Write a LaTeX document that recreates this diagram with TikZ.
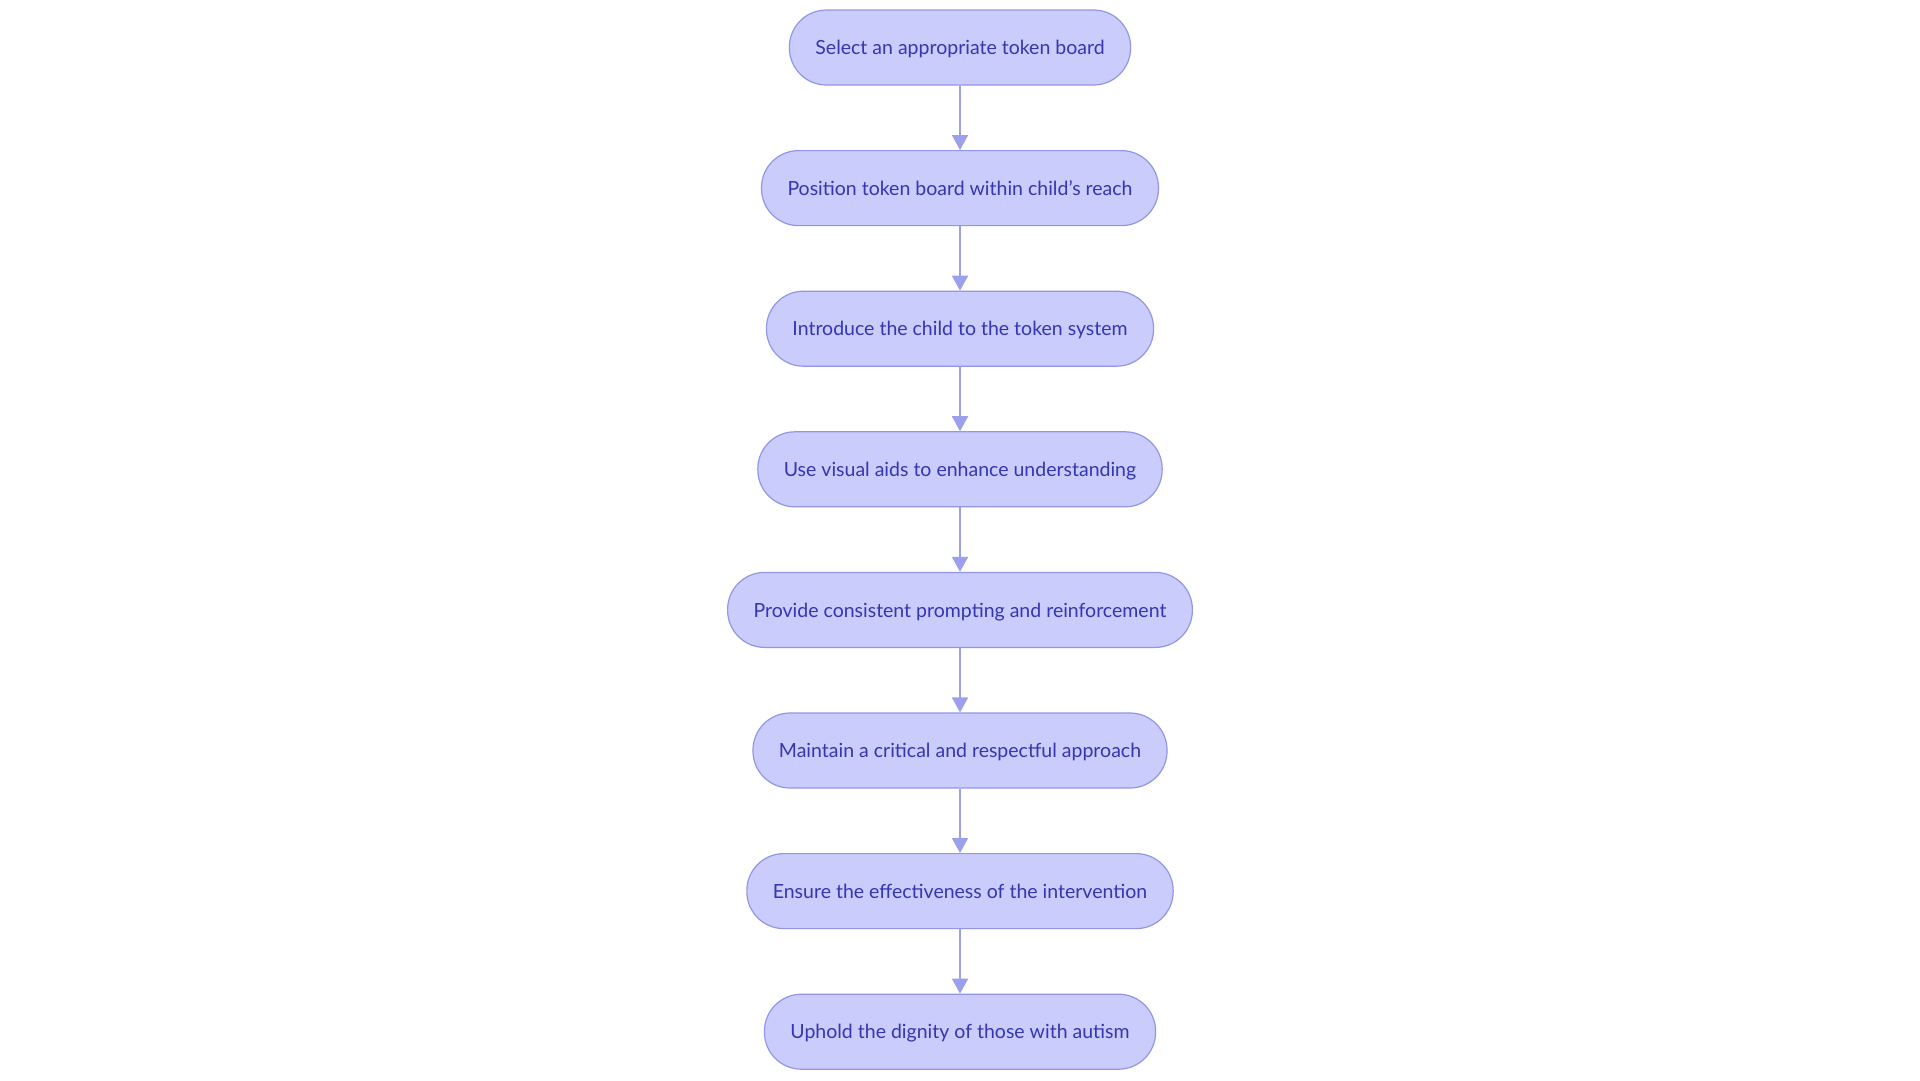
\documentclass[tikz,border=0pt]{standalone}
\usepackage{fontspec}
\setmainfont{Lato}
\usetikzlibrary{arrows.meta}
\definecolor{nodefill}{RGB}{202,204,251}
\definecolor{nodedraw}{RGB}{147,150,230}
\definecolor{nodetext}{RGB}{52,54,178}
\definecolor{arrowcol}{RGB}{156,160,236}
\tikzset{
  stepbox/.style={draw=nodedraw, line width=1.2pt, fill=nodefill, rounded corners=37pt,
    minimum height=75pt, inner xsep=26pt, text depth=0pt, text=nodetext, font=\fontsize{19.5}{22}\selectfont},
  flow/.style={draw=arrowcol, line width=2pt, -{Triangle[length=15pt,width=16pt]}}
}
\begin{document}
\begin{tikzpicture}[x=1pt,y=-1pt]
\useasboundingbox[fill=white] (0,0) rectangle (1920,1080);
\node[stepbox] (n1) at (960,47.5) {Select an appropriate token board};
\node[stepbox] (n2) at (960,188.1) {Position token board within child's reach};
\node[stepbox] (n3) at (960,328.7) {Introduce the child to the token system};
\node[stepbox] (n4) at (960,469.3) {Use visual aids to enhance understanding};
\node[stepbox] (n5) at (960,609.9) {Provide consistent prompting and reinforcement};
\node[stepbox] (n6) at (960,750.5) {Maintain a critical and respectful approach};
\node[stepbox] (n7) at (960,891.1) {Ensure the effectiveness of the intervention};
\node[stepbox] (n8) at (960,1031.7) {Uphold the dignity of those with autism};
\draw[flow] (n1) -- (n2);
\draw[flow] (n2) -- (n3);
\draw[flow] (n3) -- (n4);
\draw[flow] (n4) -- (n5);
\draw[flow] (n5) -- (n6);
\draw[flow] (n6) -- (n7);
\draw[flow] (n7) -- (n8);
\end{tikzpicture}
\end{document}
